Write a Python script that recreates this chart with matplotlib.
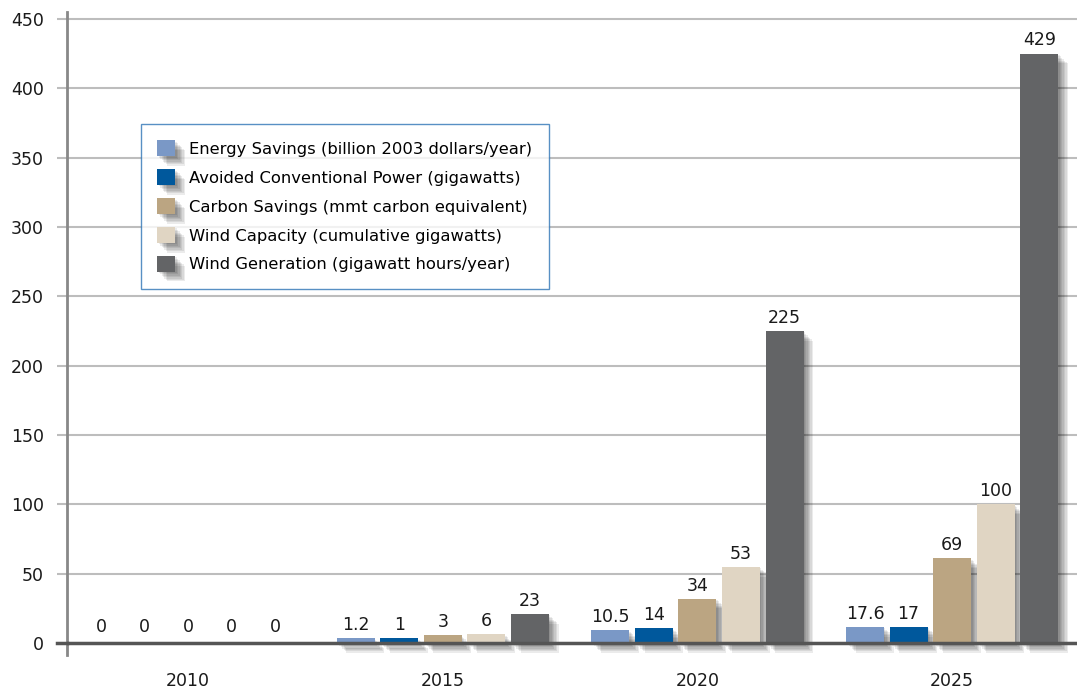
import matplotlib
matplotlib.use("Agg")
import matplotlib.pyplot as plt
import matplotlib.patheffects as pe
import numpy as np

years = ["2010", "2015", "2020", "2025"]
series_names = [
    "Energy Savings (billion 2003 dollars/year)",
    "Avoided Conventional Power (gigawatts)",
    "Carbon Savings (mmt carbon equivalent)",
    "Wind Capacity (cumulative gigawatts)",
    "Wind Generation (gigawatt hours/year)",
]
# bar heights as drawn
energy_savings = [0, 3.4, 9.3, 11.7]
avoided_power = [0, 3.4, 10.7, 11.7]
carbon_savings = [0, 5.6, 32, 61]
wind_capacity = [0, 6.3, 55, 100]
wind_generation = [0, 21, 225, 425]
# value labels as printed
energy_labels = ["0", "1.2", "10.5", "17.6"]
avoided_labels = ["0", "1", "14", "17"]
carbon_labels = ["0", "3", "34", "69"]
capacity_labels = ["0", "6", "53", "100"]
generation_labels = ["0", "23", "225", "429"]
yticks = [0, 50, 100, 150, 200, 250, 300, 350, 400, 450]

values = [energy_savings, avoided_power, carbon_savings, wind_capacity, wind_generation]
labels = [energy_labels, avoided_labels, carbon_labels, capacity_labels, generation_labels]
colors = ["#7A98C6", "#00589C", "#BBA582", "#E0D5C3", "#636466"]

plt.rcParams['font.family'] = ['DejaVu Sans']

fig = plt.figure(figsize=(10.77, 6.89), dpi=100)
ax = fig.add_axes([67/1077, 34/689, 1010/1077, 643/689])

shadow = [pe.SimplePatchShadow(offset=(d, -d), shadow_rgbFace="#000000", alpha=0.08) for d in (1, 2, 3, 4, 5, 6, 7)]
shadow.append(pe.Normal())

x = np.arange(len(years))
step = 0.171
width = 0.149
for i, (vals, labs, col, name) in enumerate(zip(values, labels, colors, series_names)):
    pos = x + (i - 2) * step
    ax.bar(pos, vals, width, color=col, label=name, zorder=3, path_effects=shadow)
    for px, v, lab in zip(pos, vals, labs):
        off = 5 if v == 0 else 3
        ax.annotate(lab, (px, v), xytext=(0, off), textcoords="offset points",
                    ha="center", va="bottom", fontsize=12.5, color="#1a1a1a", zorder=5)

ax.set_xlim(-0.475, 3.49)
ax.set_ylim(-8.6, 455)
ax.set_yticks(yticks)
ax.set_yticklabels([str(t) for t in yticks])
ax.set_xticks(x)
ax.set_xticklabels(years)

ax.yaxis.grid(True, color="#BDBDBD", linewidth=1.5, zorder=0)
ax.set_axisbelow(True)
ax.axhline(0, color="#555555", linewidth=2.5, zorder=4)
ax.plot([-0.01, 0], [0, 0], transform=ax.get_yaxis_transform(), color="#555555",
        linewidth=2.5, clip_on=False, zorder=4)

for s in ["top", "right", "bottom"]:
    ax.spines[s].set_visible(False)
ax.spines["left"].set_color("#888888")
ax.spines["left"].set_linewidth(2)

ax.tick_params(axis="y", length=7.5, width=1.5, color="#BDBDBD", pad=9, labelsize=12.5, labelcolor="#1a1a1a")
ax.tick_params(axis="x", length=0, pad=12, labelsize=12.5, labelcolor="#1a1a1a")

leg = ax.legend(loc="upper left", bbox_to_anchor=((141-67)/1010, (655-124)/643),
                borderaxespad=0, fontsize=11.8, frameon=True, fancybox=False,
                handlelength=1.1, handleheight=1.1, handletextpad=0.85,
                labelspacing=0.76, borderpad=1.0)
leg.get_frame().set_edgecolor("#2E75B6")
leg.get_frame().set_linewidth(1.0)
leg.set_zorder(6)

fig.savefig("out.png", dpi=100)
